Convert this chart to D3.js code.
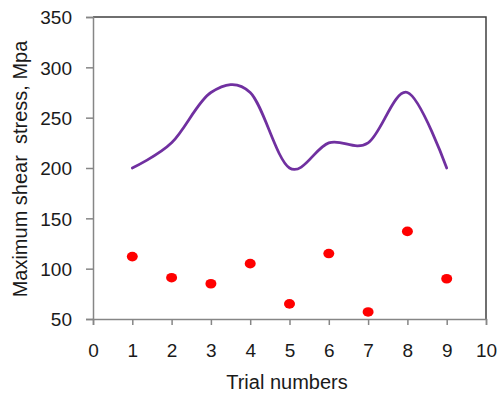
<!DOCTYPE html>
<html><head><meta charset="utf-8">
<script src="https://cdn.jsdelivr.net/npm/d3@7"></script>
<style>body{margin:0;background:#fff}text{font-family:"Liberation Sans",Arial,sans-serif;fill:#1a1a1a}</style>
</head><body><svg id="c" width="501" height="393"></svg>
<script>
const trials = [1,2,3,4,5,6,7,8,9];
const lineValues = [200,225,275,275,200,225,225,275,200];
const dotValues = [112,91,85,105,65,115,57,137,90];
const xTicks = [0,1,2,3,4,5,6,7,8,9,10];
const yTicks = [50,100,150,200,250,300,350];
const xTitle = "Trial numbers";
const yTitle = "Maximum shear\u00a0 stress, Mpa";

const svg = d3.select("#c");
const L=93,R=486,T=17,B=319;
const x = d3.scaleLinear().domain([0,10]).range([L,R]);
const y = d3.scaleLinear().domain([50,350]).range([B,T]);

// frame top/right
svg.append("path").attr("d",`M${L},${T}H${R}V${B}`).attr("fill","none").attr("stroke","#404040").attr("stroke-width",1.5);

const gx = svg.append("g").attr("transform",`translate(0,${B})`)
  .call(d3.axisBottom(x).tickValues(xTicks).tickSize(6).tickPadding(19).tickFormat(d3.format("d")));
const gy = svg.append("g").attr("transform",`translate(${L},0)`)
  .call(d3.axisLeft(y).tickValues(yTicks).tickSize(7).tickPadding(14).tickFormat(d3.format("d")));
[gx,gy].forEach(g=>{
  g.select(".domain").attr("stroke","#868686").attr("stroke-width",1.5);
  g.selectAll(".tick line").attr("stroke","#868686").attr("stroke-width",1.5);
  g.selectAll("text").attr("font-size",19).attr("font-family","Liberation Sans, Arial, sans-serif").attr("fill","#1a1a1a");
});
gy.selectAll("text").attr("dy","0.36em");

const line = d3.line().x((d,i)=>x(trials[i])).y(d=>y(d)).curve(d3.curveCatmullRom.alpha(0));
svg.append("path").datum(lineValues).attr("d",line).attr("fill","none")
  .attr("stroke","#7030A0").attr("stroke-width",2.75).attr("stroke-linecap","round");

svg.selectAll("ellipse.dot").data(dotValues).join("ellipse").attr("class","dot")
  .attr("cx",(d,i)=>x(trials[i])).attr("cy",d=>y(d)).attr("rx",5.5).attr("ry",4.8).attr("fill","#ff0000");

svg.append("text").attr("x",287).attr("y",389).attr("text-anchor","middle").attr("font-size",20).text(xTitle);
svg.append("text").attr("transform","translate(27,169) rotate(-90)").attr("text-anchor","middle").attr("font-size",20).text(yTitle);
</script></body></html>
